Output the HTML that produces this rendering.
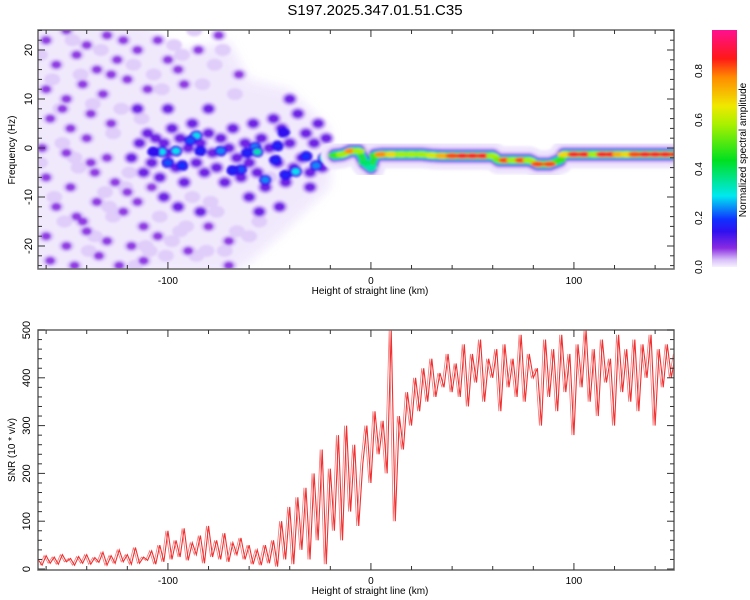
<!DOCTYPE html>
<html><head><meta charset="utf-8"><style>
body{margin:0;background:#fff;}
svg{display:block;font-family:"Liberation Sans",sans-serif;}
</style></head><body>
<svg id="chart" width="750" height="600" xmlns="http://www.w3.org/2000/svg">
<defs>
<filter id="blur" x="-20%" y="-20%" width="140%" height="140%"><feGaussianBlur stdDeviation="1.2"/></filter>
<filter id="blur2" x="-20%" y="-20%" width="140%" height="140%"><feGaussianBlur stdDeviation="5"/></filter>
<clipPath id="topclip"><rect x="38" y="30" width="636" height="239"/></clipPath>
<clipPath id="botclip"><rect x="38" y="330" width="636" height="240"/></clipPath>
<linearGradient id="cbgrad" x1="0" y1="1" x2="0" y2="0">
<stop offset="0" stop-color="#f6f0ff"/><stop offset="0.03" stop-color="#d8c0f8"/><stop offset="0.08" stop-color="#8a2be2"/>
<stop offset="0.15" stop-color="#3010f0"/><stop offset="0.2" stop-color="#1030ff"/><stop offset="0.3" stop-color="#00e8f0"/>
<stop offset="0.45" stop-color="#00e020"/><stop offset="0.6" stop-color="#a8f000"/><stop offset="0.68" stop-color="#f0e800"/>
<stop offset="0.8" stop-color="#ff8c00"/><stop offset="0.88" stop-color="#ff1818"/><stop offset="1" stop-color="#ff1090"/>
</linearGradient>
</defs>
<text x="375" y="15" font-size="15" text-anchor="middle">S197.2025.347.01.51.C35</text>
<g id="top"></g>
<g id="bot"></g>
<g id="cb"></g>
</svg>
<script>
// ---- spectrogram data ----
const bandKm   = [-18,-14,-10,-6,-3,0,2,5,10,15,20,25,30,35,40,45,50,55,60,63,66,70,74,78,82,88,93,95,100,105,110,114,118,122,126,130,135,140,145,150];
const bandFreq = [-1.5,-1.3,-0.6,-0.6,-3,-4,-1.5,-1.3,-1.3,-1.3,-1.3,-1.3,-1.5,-1.6,-1.6,-1.6,-1.6,-1.6,-1.6,-2.5,-2.5,-2.5,-2.5,-2.5,-3.3,-3.3,-2.5,-1.3,-1.3,-1.3,-1.3,-1.3,-1.3,-1.3,-1.3,-1.3,-1.3,-1.3,-1.3,-1.3];
const bandAmp  = [0.5,0.6,0.8,0.6,0.4,0.35,0.5,0.8,0.7,0.6,0.6,0.6,0.65,0.75,0.85,0.9,0.9,0.9,0.6,0.55,0.85,0.6,0.85,0.6,0.85,0.85,0.5,0.7,0.9,0.9,0.6,0.9,0.9,0.75,0.7,0.85,0.9,0.9,0.9,0.9];
const hotKm   = [-103,-96,-86,-89,-100,-93,-84,-74,-64,-68,-57,-56,-61,-52,-46,-47,-43,-37,-42,-32,-27,-23,-19,-17,-107];
const hotFreq = [-0.8,-0.6,2.5,1.5,-3,-3.6,-0.6,-0.6,-4.4,-4.6,0.2,-0.8,-1,-6.5,0.4,-2.5,3.2,-4.8,-5.5,-1.7,-3.6,-2.1,-1.7,-1.5,-0.8];
const hotAmp  = [0.3,0.3,0.3,0.22,0.22,0.2,0.18,0.25,0.22,0.18,0.25,0.35,0.18,0.25,0.18,0.18,0.15,0.3,0.18,0.2,0.25,0.35,0.55,0.8,0.15];
const midKm   = [-118,-114,-112,-110,-108,-106,-104,-102,-100,-98,-96,-94,-92,-90,-88,-86,-84,-82,-80,-78,-76,-74,-72,-70,-68,-66,-64,-62,-60,-58,-56,-54,-52,-50,-48,-46,-44,-42,-40,-40,-38,-36,-34,-32,-30,-28,-26,-24,-22,-102,-95,-84,-60,-55,-45,-30,-115,-100,-80];
const midFreq = [-2,1,-5,3,-3,2,-6,1,-1,4,-4,2,-7,0,5,-3,1,-5,3,-1,-4,2,-7,0,4,-2,-6,1,-3,5,-5,2,-8,0,6,-3,4,-7,10,1,-4,7,-2,3,-5,1,5,-4,2,-10,-12,-13,-10,-13,-12,-8,8,8,8];
const bgKm   = [-160,-150,-140,-130,-122,-155,-145,-135,-125,-115,-105,-160,-150,-142,-132,-120,-110,-95,-158,-148,-138,-128,-162,-150,-140,-130,-160,-148,-136,-126,-155,-145,-135,-122,-112,-160,-150,-140,-130,-118,-105,-158,-146,-134,-124,-112,-90,-85,-75,-70,-80,-100,-92,-65,-70,-108,-115,-152,-138,-120,-142,-128];
const bgFreq = [22,24,21,23,22,17,19,16,18,20,22,12,10,13,11,14,12,16,6,4,7,5,0,-1,2,-2,-6,-8,-5,-7,-12,-14,-11,-13,-16,-18,-20,-17,-19,-20,-18,-23,-24,-22,-24,-23,-21,20,23,-19,-16,18,13,15,-24,-8,-11,8,-3,-9,-15,15];
const lightKm   = [-163,-157,-153,-147,-143,-137,-133,-127,-123,-117,-113,-107,-103,-97,-93,-87,-83,-77,-73,-67,-163,-156,-151,-144,-139,-131,-127,-119,-111,-104,-98,-91,-86,-79,-72,-66,-152,-146,-136,-129,-121,-116,-109,-101,-94,-88,-81,-76,-60,-55,-50];
const lightFreq = [19,14,8,22,15,9,20,3,8,17,6,15,12,21,19,24,13,17,20,11,-3,-10,-15,-4,-21,-9,-14,-5,-20,-14,-19,-16,-22,-11,-21,-17,1,-2,-18,-12,-8,-24,-21,-22,-17,-10,-21,-13,-18,-15,-6];

// ---- SNR data (every 2 km from -164) ----
const snrStart = -164, snrStep = 2;
const snr = [20,8,28,12,25,10,30,15,22,8,26,12,30,10,24,14,35,8,28,12,40,15,30,10,45,12,25,18,38,10,
50,15,80,20,60,25,85,18,55,30,70,12,90,25,60,20,75,15,55,30,65,20,50,
10,40,8,50,12,
60,5,100,20,130,10,150,
40,170,20,200,60,250,10,210,
80,280,60,300,120,260,90,
220,300,180,330,240,310,200,
500,100,320,250,370,300,
400,330,420,350,440,360,410,380,450,370,
430,360,470,340,450,390,480,350,440,400,460,330,470,380,440,360,490,350,450,400,
420,300,480,360,460,330,490,370,450,280,470,380,500,350,460,320,480,390,440,300,490,370,460,350,480,330,470,400,490,300,460,380,470,400,450];

const xTickLabels = [-100,0,100];
const freqTickLabels = [-20,-10,0,10,20];
const snrTickLabels = [0,100,200,300,400,500];
const cbTickLabels = [0.0,0.2,0.4,0.6,0.8];

const NS='http://www.w3.org/2000/svg';
function mk(tag,attrs,parent){const e=document.createElementNS(NS,tag);for(const k in attrs)e.setAttribute(k,attrs[k]);parent.appendChild(e);return e;}
const xs = km => 38 + (km+164)*2.03;
const yt = f => 148 - f*4.9;
const yb = v => 569 - v*0.478;
const cbY = a => 267 - a*245;

const stops=[[0,[246,240,255]],[0.03,[216,192,248]],[0.08,[138,43,226]],[0.15,[48,16,240]],[0.2,[16,48,255]],[0.3,[0,232,240]],[0.45,[0,224,32]],[0.6,[168,240,0]],[0.68,[240,232,0]],[0.8,[255,140,0]],[0.88,[255,24,24]],[1,[255,16,144]]];
function cmap(a){for(let i=1;i<stops.length;i++){if(a<=stops[i][0]){const t=(a-stops[i-1][0])/(stops[i][0]-stops[i-1][0]);const c=stops[i-1][1].map((v,j)=>Math.round(v+(stops[i][1][j]-v)*t));return `rgb(${c})`;}}return 'rgb(255,16,144)';}

const topG=document.getElementById('top'), botG=document.getElementById('bot'), cbG=document.getElementById('cb');

// ---- top panel ----
const tg = mk('g',{'clip-path':'url(#topclip)'},topG);
const bgLayer = mk('g',{filter:'url(#blur2)',opacity:'0.7'},tg);


mk('polygon',{points:`${xs(-170)},${yt(26)} ${xs(-112)},${yt(26)} ${xs(-95)},${yt(20)} ${xs(-70)},${yt(22)} ${xs(-60)},${yt(14)} ${xs(-40)},${yt(12)} ${xs(-20)},${yt(4)} ${xs(-20)},${yt(-8)} ${xs(-45)},${yt(-18)} ${xs(-62)},${yt(-24)} ${xs(-70)},${yt(-26)} ${xs(-170)},${yt(-26)}`,fill:'#ebe0fc'},bgLayer);
const blobs = mk('g',{filter:'url(#blur)'},tg);


for(let i=0;i<lightKm.length;i++){
  const e=mk('ellipse',{cx:xs(lightKm[i]),cy:yt(lightFreq[i]),rx:8,ry:6,fill:cmap(0.022)},blobs);
  
  
}
for(let i=0;i<bgKm.length;i++){
  mk('ellipse',{cx:xs(bgKm[i]),cy:yt(bgFreq[i]),rx:8,ry:6,fill:cmap(0.025)},blobs);
}
for(let i=0;i<bgKm.length;i++){
  const e=mk('ellipse',{cx:xs(bgKm[i]),cy:yt(bgFreq[i]),rx:5,ry:4,fill:cmap(0.075)},blobs);
  
  
}
for(let i=0;i<midKm.length;i++){
  mk('ellipse',{cx:xs(midKm[i]),cy:yt(midFreq[i]),rx:8,ry:6.5,fill:cmap(0.035)},blobs);
}
for(let i=0;i<midKm.length;i++){
  const e=mk('ellipse',{cx:xs(midKm[i]),cy:yt(midFreq[i]),rx:5.5,ry:4.5,fill:cmap(0.1)},blobs);
  
  
}
// band
const bandPts = bandKm.map((k,i)=>`${xs(k)},${yt(bandFreq[i])}`).join(' ');
const bandG = mk('g',{filter:'url(#blur)'},tg);


[[28,'#efe6fd'],[18,'#ddc8f8'],[13,'#8a40e6'],[11,'#2828f0'],[9,'#00d8f0'],[7,'#20e040']].forEach(([w,c])=>{
  mk('polyline',{points:bandPts,fill:'none',stroke:c,'stroke-width':w,'stroke-linejoin':'round','stroke-linecap':'round'},bandG);
});
for(let i=0;i<bandKm.length;i++){
  const e=mk('ellipse',{cx:xs(bandKm[i]),cy:yt(bandFreq[i]),rx:6.5,ry:2.8,fill:cmap(bandAmp[i])},bandG);
  
  
}
for(let i=0;i<hotKm.length;i++){
  const r=4;
  mk('ellipse',{cx:xs(hotKm[i]),cy:yt(hotFreq[i]),rx:r+2.5,ry:r+1.5,fill:cmap(0.15)},blobs);
  const e=mk('ellipse',{cx:xs(hotKm[i]),cy:yt(hotFreq[i]),rx:r,ry:r-1,fill:cmap(hotAmp[i])},blobs);
  
  
}

function frame(parent,y0,y1,name){
  const r=mk('rect',{x:38,y:y0,width:636,height:y1-y0,fill:'none',stroke:'#666','stroke-width':1.5},parent);
  
  
  for(let k=-160;k<=150;k+=20){
    const x=xs(k), L=(k%100===0)?7:4;
    mk('line',{x1:x,y1:y0,x2:x,y2:y0+L,stroke:'#333'},parent);
    mk('line',{x1:x,y1:y1,x2:x,y2:y1-L,stroke:'#333'},parent);
  }
}
frame(topG,30,269,'spectrogram-frame');
for(let f=-24;f<=24;f+=2){const y=yt(f),L=(f%10===0)?7:4;mk('line',{x1:38,y1:y,x2:38+L,y2:y,stroke:'#333'},topG);mk('line',{x1:674,y1:y,x2:674-L,y2:y,stroke:'#333'},topG);}
freqTickLabels.forEach(f=>{const y=yt(f);const t=mk('text',{x:32,y:y,'font-size':11,'text-anchor':'middle',transform:`rotate(-90 32 ${y})`},topG);t.textContent=f;

});
xTickLabels.forEach(k=>{const t=mk('text',{x:xs(k),y:284,'font-size':10,'text-anchor':'middle'},topG);t.textContent=k;

});
{const t=mk('text',{x:370,y:294,'font-size':10,'text-anchor':'middle'},topG);t.textContent='Height of straight line (km)';

}
{const t=mk('text',{x:15,y:150,'font-size':10,'text-anchor':'middle',transform:'rotate(-90 15 150)'},topG);t.textContent='Frequency (Hz)';

}

// ---- bottom panel ----
const bg2=mk('g',{'clip-path':'url(#botclip)'},botG);
const n=snr.length;
const snrLine2=mk('polyline',{points:snr.map((v,i)=>`${xs(snrStart+i*snrStep+1)},${yb(snr[(i+1)%n])}`).join(' '),fill:'none',stroke:'#f04040','stroke-width':0.8,'stroke-opacity':0.7},bg2);


const snrLine=mk('polyline',{points:snr.map((v,i)=>`${xs(snrStart+i*snrStep)},${yb(v)}`).join(' '),fill:'none',stroke:'#f03030','stroke-width':1.1},bg2);


frame(botG,330,570,'snr-frame');
for(let v=0;v<=500;v+=20){const y=yb(v),L=(v%100===0)?7:4;mk('line',{x1:38,y1:y,x2:38+L,y2:y,stroke:'#333'},botG);mk('line',{x1:674,y1:y,x2:674-L,y2:y,stroke:'#333'},botG);}
snrTickLabels.forEach(v=>{const y=yb(v);const t=mk('text',{x:30,y:y,'font-size':11,'text-anchor':'middle',transform:`rotate(-90 30 ${y})`},botG);t.textContent=v;

});
xTickLabels.forEach(k=>{const t=mk('text',{x:xs(k),y:584,'font-size':10,'text-anchor':'middle'},botG);t.textContent=k;

});
{const t=mk('text',{x:370,y:594,'font-size':10,'text-anchor':'middle'},botG);t.textContent='Height of straight line (km)';

}
{const t=mk('text',{x:15,y:450,'font-size':10,'text-anchor':'middle',transform:'rotate(-90 15 450)'},botG);t.textContent='SNR (10 * v/v)';

}

// ---- colorbar ----
{const r=mk('rect',{x:712,y:30,width:25,height:237,fill:'url(#cbgrad)'},cbG);

}
cbTickLabels.forEach(a=>{const y=cbY(a);const t=mk('text',{x:702,y:y,'font-size':10,'text-anchor':'middle',transform:`rotate(-90 702 ${y})`},cbG);t.textContent=a.toFixed(1);

});
{const t=mk('text',{x:746,y:150,'font-size':10,'text-anchor':'middle',transform:'rotate(-90 746 150)'},cbG);t.textContent='Normalized spectral amplitude';

}
</script>
</body></html>
